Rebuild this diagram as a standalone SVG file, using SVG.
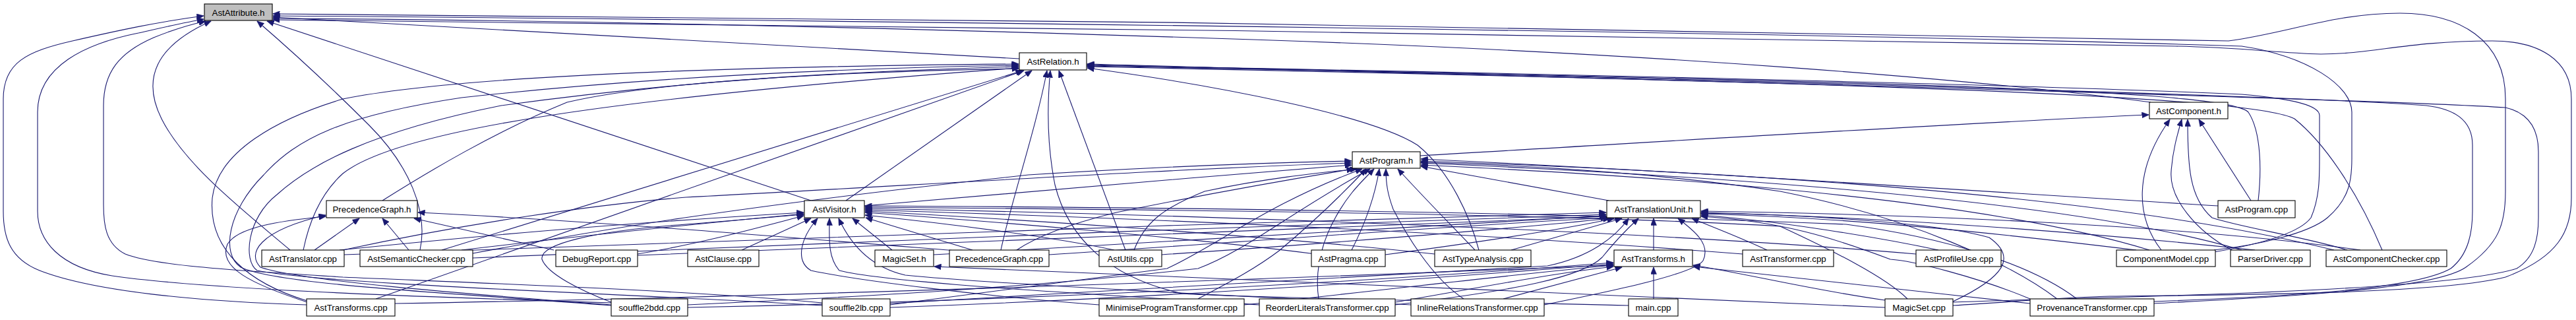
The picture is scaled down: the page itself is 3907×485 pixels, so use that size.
<svg xmlns="http://www.w3.org/2000/svg" width="3907" height="485" viewBox="0 0 3907 485">
<style>
.n rect{fill:#fff;stroke:#000;stroke-width:1.1}
.n.root rect{fill:#bfbfbf}
.n text{font-family:"Liberation Sans",Arial,Helvetica,sans-serif;font-size:13.3px;text-anchor:middle;fill:#000}
.e path{fill:none;stroke:#191970;stroke-width:1.1;marker-end:url(#ah)}
</style>
<defs>
<marker id="ah" markerUnits="userSpaceOnUse" markerWidth="11" markerHeight="9" viewBox="0 0 11 9" refX="10.5" refY="4.5" orient="auto">
<path d="M0,0L11,4.5L0,9z" fill="#191970" stroke="#191970" stroke-width="0.5"/>
</marker>
</defs>
<rect x="0" y="0" width="3907" height="485" fill="#fff"/>
<g id="edges" class="e">
<path d="M465,462 C330,458 150,445 60,410 C15,392 5,360 5,320 L5,150 C5,95 40,78 110,62 C180,46 240,33 309,24"/>
<path d="M927,459 C700,452 320,440 170,418 C90,405 57,365 57,320 L57,170 C57,100 130,66 210,50 C250,41 280,34 309,29"/>
<path d="M1247,459 C1050,440 700,428 520,420 C400,412 240,405 190,385 C160,370 157,340 157,310 L157,160 C157,110 180,80 233,57 C260,46 285,38 312,32"/>
<path d="M440,379 C370,320 280,250 245,180 C215,120 235,70 320,32"/>
<path d="M637,379 C650,320 620,250 560,190 C500,130 440,75 390,32"/>
<path d="M1230,304 L405,32"/>
<path d="M1546,89 L414,26"/>
<path d="M3262,155 C3000,120 2500,80 1900,60 C1300,40 800,30 414,28"/>
<path d="M3267,460 C3450,450 3690,440 3740,405 C3790,370 3800,340 3800,290 L3800,150 C3800,60 3730,20 3640,20 C3540,20 3470,50 3380,62 C2800,45 1200,25 414,21"/>
<path d="M2962,463 C3050,458 3100,452 3200,449 C3400,447 3700,445 3800,420 C3880,390 3900,350 3900,300 L3900,150 C3900,90 3850,62 3780,62 C3650,62 3600,82 3520,82 C3450,80 3400,72 3300,70 C2500,55 1200,35 414,30"/>
<path d="M3358,379 C3420,372 3500,355 3530,330 C3565,300 3567,270 3567,240 L3567,170 C3567,130 3500,85 3400,70 C2800,50 1400,32 414,24"/>
<path d="M466,456 C380,430 315,380 322,300 C330,230 420,180 520,150 C720,110 1200,100 1545,97"/>
<path d="M927,463 C700,445 420,432 365,405 C335,385 345,320 400,265 C450,210 520,175 700,148 C1000,115 1300,103 1545,99"/>
<path d="M1247,463 C1000,447 500,432 390,410 C368,395 375,330 420,295 C470,250 560,200 760,160 C1050,120 1300,108 1545,101"/>
<path d="M460,379 C470,330 490,290 520,263 C600,200 900,150 1545,103"/>
<path d="M580,304 C650,260 750,200 860,155 C1000,122 1300,108 1545,104"/>
<path d="M670,379 L1551,107"/>
<path d="M570,453 L1553,107"/>
<path d="M1283,304 L1565,107"/>
<path d="M1518,379 C1535,300 1570,200 1588,107"/>
<path d="M2470,463 C2200,456 1850,450 1793,445 C1680,420 1620,360 1600,280 C1588,220 1588,160 1593,107"/>
<path d="M1707,379 L1606,107"/>
<path d="M2243,379 C2230,330 2200,260 2150,220 C2080,175 1850,130 1649,103"/>
<path d="M3425,304 C3430,260 3430,200 3410,170 C3380,140 3000,125 1649,100"/>
<path d="M3613,379 C3580,300 3530,220 3480,180 C3420,150 3000,128 1649,101"/>
<path d="M3358,382 C3440,368 3490,350 3505,330 C3518,300 3518,270 3518,240 L3518,175 C3518,160 3480,150 3400,143 C3000,125 2000,105 1649,99"/>
<path d="M3267,457 C3450,450 3660,440 3717,407 C3745,385 3750,350 3750,320 L3750,220 C3750,180 3720,165 3680,160 C3500,145 2400,115 1649,98"/>
<path d="M2962,458 C3100,452 3700,445 3817,407 C3845,390 3850,360 3850,330 L3850,230 C3850,190 3830,170 3800,163 C3600,150 2400,118 1649,97"/>
<path d="M2154,236 C2600,210 3000,185 3259,174"/>
<path d="M3278,379 C3240,330 3235,260 3291,181"/>
<path d="M3385,379 C3330,350 3290,300 3293,260 C3295,230 3302,205 3309,181"/>
<path d="M3560,379 C3500,360 3400,345 3355,330 C3320,300 3318,250 3318,181"/>
<path d="M3414,304 L3335,181"/>
<path d="M1311,312 C1500,295 1800,270 2050,250"/>
<path d="M520,379 C700,340 900,310 1040,299 C1400,280 1800,255 2050,247"/>
<path d="M717,384 C900,350 1100,315 1560,265 C1800,250 1950,246 2050,244"/>
<path d="M1542,379 C1570,360 1620,340 1693,322 C1850,290 1980,268 2053,256"/>
<path d="M1720,379 C1735,340 1760,317 1827,290 C1920,270 2000,262 2058,256"/>
<path d="M1817,453 C1860,430 1900,410 1940,380 C2000,330 2040,290 2072,256"/>
<path d="M1350,462 C1450,450 1600,430 1770,407 C1850,370 1920,310 2066,256"/>
<path d="M1043,462 C1300,450 1550,437 1817,407 C1890,380 1960,320 2078,256"/>
<path d="M2050,379 C2070,340 2085,300 2092,256"/>
<path d="M2220,453 C2170,420 2130,350 2113,317 C2105,295 2102,280 2102,256"/>
<path d="M2237,379 C2200,340 2160,300 2120,256"/>
<path d="M2440,304 L2155,252"/>
<path d="M3260,379 C3100,330 2800,280 2155,250"/>
<path d="M3400,379 C3200,320 2800,275 2155,247"/>
<path d="M3540,379 C3300,320 2900,270 2155,244"/>
<path d="M3364,312 C3000,290 2600,262 2155,241"/>
<path d="M3120,453 C3050,400 2900,330 2700,290 C2500,260 2300,250 2155,246"/>
<path d="M2000,453 C1995,420 2000,380 2020,340 C2040,300 2060,280 2084,256"/>
<path d="M522,386 C1000,366 1800,340 2436,322"/>
<path d="M717,391 C1200,370 1900,342 2436,325"/>
<path d="M967,387 C1400,370 2000,345 2436,328"/>
<path d="M1416,386 C1800,366 2200,340 2436,327"/>
<path d="M1591,386 C1900,366 2200,342 2438,330"/>
<path d="M1762,386 C2000,370 2300,346 2442,331"/>
<path d="M2101,386 C2250,366 2380,346 2448,331"/>
<path d="M2292,379 L2460,331"/>
<path d="M2508,379 L2508,331"/>
<path d="M2342,462 C2450,440 2570,415 2583,395 C2595,370 2570,350 2545,331"/>
<path d="M2680,379 C2640,360 2600,345 2566,331"/>
<path d="M2940,379 C2850,360 2700,335 2580,326"/>
<path d="M3240,379 C3000,350 2800,330 2580,324"/>
<path d="M3420,379 C3100,345 2800,328 2580,322"/>
<path d="M3580,379 C3300,340 2900,325 2580,320"/>
<path d="M2962,457 C3040,420 3060,390 3017,360 C2950,340 2750,325 2580,323"/>
<path d="M3079,453 C3000,420 2900,395 2867,393 C2780,360 2700,335 2580,328"/>
<path d="M1350,460 C1700,440 2100,415 2347,403 C2410,390 2450,360 2470,331"/>
<path d="M2116,462 C2300,440 2400,420 2430,390 C2450,365 2470,345 2485,331"/>
<path d="M515,379 C800,350 1000,335 1219,322"/>
<path d="M700,379 C900,355 1050,340 1219,324"/>
<path d="M967,385 C1060,370 1150,345 1219,327"/>
<path d="M927,458 C880,440 830,415 822,393 C818,370 900,350 1040,340 C1120,334 1180,328 1219,325"/>
<path d="M1125,379 L1230,331"/>
<path d="M1353,379 L1293,331"/>
<path d="M1475,379 L1313,330"/>
<path d="M1667,462 C1500,450 1300,425 1230,410 C1205,395 1215,360 1240,331"/>
<path d="M1910,462 C1700,448 1350,430 1273,410 C1255,390 1258,360 1258,331"/>
<path d="M2140,462 C1900,450 1500,430 1373,417 C1320,405 1290,370 1272,331"/>
<path d="M1690,379 C1600,360 1450,340 1312,326"/>
<path d="M1995,385 C1800,360 1500,335 1312,322"/>
<path d="M2176,385 C1900,355 1500,330 1312,320"/>
<path d="M2643,385 C2200,350 1700,330 1312,318"/>
<path d="M2906,385 C2500,350 1800,325 1312,316"/>
<path d="M2893,453 C2860,420 2780,380 2700,343 C2400,325 1800,318 1312,314"/>
<path d="M3150,453 C3080,400 2950,360 2800,340 C2300,320 1700,314 1312,312"/>
<path d="M466,458 C380,430 330,405 345,370 C360,345 420,335 494,328"/>
<path d="M927,462 C700,445 450,425 395,405 C375,385 390,350 494,326"/>
<path d="M477,379 L545,331"/>
<path d="M620,379 L580,331"/>
<path d="M840,379 L628,331"/>
<path d="M1475,382 C1200,360 900,335 634,322"/>
<path d="M599,460 C900,455 1500,440 2447,402"/>
<path d="M1887,462 C2100,440 2300,415 2447,402"/>
<path d="M2116,458 C2250,435 2350,415 2447,404"/>
<path d="M1350,466 C1800,450 2200,420 2447,400"/>
<path d="M1043,466 C1600,455 2100,425 2447,398"/>
<path d="M2280,453 L2460,405"/>
<path d="M2508,453 L2508,405"/>
<path d="M2859,455 C2750,440 2650,415 2568,402"/>
<path d="M3079,460 C2900,440 2700,420 2568,404"/>
<path d="M2859,466 C2400,445 1800,420 1417,404"/>
</g>
<g id="node_AstAttribute_h" class="n root"><rect x="310" y="6" width="103" height="25"/><text x="361.5" y="23.5">AstAttribute.h</text></g>
<g id="node_AstRelation_h" class="n"><rect x="1546" y="80" width="102" height="26"/><text x="1597" y="97.5">AstRelation.h</text></g>
<g id="node_AstComponent_h" class="n"><rect x="3260" y="155" width="119" height="25"/><text x="3319.5" y="172.5">AstComponent.h</text></g>
<g id="node_AstProgram_h" class="n"><rect x="2051" y="230" width="103" height="25"/><text x="2102.5" y="247.5">AstProgram.h</text></g>
<g id="node_PrecedenceGraph_h" class="n"><rect x="495" y="304" width="138" height="26"/><text x="564" y="321.5">PrecedenceGraph.h</text></g>
<g id="node_AstVisitor_h" class="n"><rect x="1220" y="304" width="91" height="26"/><text x="1265.5" y="321.5">AstVisitor.h</text></g>
<g id="node_AstTranslationUnit_h" class="n"><rect x="2437" y="304" width="142" height="26"/><text x="2508" y="321.5">AstTranslationUnit.h</text></g>
<g id="node_AstProgram_cpp" class="n"><rect x="3364" y="304" width="117" height="26"/><text x="3422.5" y="321.5">AstProgram.cpp</text></g>
<g id="node_AstTranslator_cpp" class="n"><rect x="397" y="379" width="125" height="25"/><text x="459.5" y="396.5">AstTranslator.cpp</text></g>
<g id="node_AstSemanticChecker_cpp" class="n"><rect x="546" y="379" width="171" height="25"/><text x="631.5" y="396.5">AstSemanticChecker.cpp</text></g>
<g id="node_DebugReport_cpp" class="n"><rect x="843" y="379" width="124" height="25"/><text x="905" y="396.5">DebugReport.cpp</text></g>
<g id="node_AstClause_cpp" class="n"><rect x="1043" y="379" width="108" height="25"/><text x="1097" y="396.5">AstClause.cpp</text></g>
<g id="node_MagicSet_h" class="n"><rect x="1327" y="379" width="89" height="25"/><text x="1371.5" y="396.5">MagicSet.h</text></g>
<g id="node_PrecedenceGraph_cpp" class="n"><rect x="1440" y="379" width="151" height="25"/><text x="1515.5" y="396.5">PrecedenceGraph.cpp</text></g>
<g id="node_AstUtils_cpp" class="n"><rect x="1667" y="379" width="95" height="25"/><text x="1714.5" y="396.5">AstUtils.cpp</text></g>
<g id="node_AstPragma_cpp" class="n"><rect x="1989" y="379" width="112" height="25"/><text x="2045" y="396.5">AstPragma.cpp</text></g>
<g id="node_AstTypeAnalysis_cpp" class="n"><rect x="2176" y="379" width="146" height="25"/><text x="2249" y="396.5">AstTypeAnalysis.cpp</text></g>
<g id="node_AstTransforms_h" class="n"><rect x="2448" y="379" width="119" height="25"/><text x="2507.5" y="396.5">AstTransforms.h</text></g>
<g id="node_AstTransformer_cpp" class="n"><rect x="2643" y="379" width="138" height="25"/><text x="2712" y="396.5">AstTransformer.cpp</text></g>
<g id="node_AstProfileUse_cpp" class="n"><rect x="2906" y="379" width="129" height="25"/><text x="2970.5" y="396.5">AstProfileUse.cpp</text></g>
<g id="node_ComponentModel_cpp" class="n"><rect x="3210" y="379" width="150" height="25"/><text x="3285" y="396.5">ComponentModel.cpp</text></g>
<g id="node_ParserDriver_cpp" class="n"><rect x="3383" y="379" width="121" height="25"/><text x="3443.5" y="396.5">ParserDriver.cpp</text></g>
<g id="node_AstComponentChecker_cpp" class="n"><rect x="3528" y="379" width="183" height="25"/><text x="3619.5" y="396.5">AstComponentChecker.cpp</text></g>
<g id="node_AstTransforms_cpp" class="n"><rect x="465" y="453" width="134" height="26"/><text x="532" y="470.5">AstTransforms.cpp</text></g>
<g id="node_souffle2bdd_cpp" class="n"><rect x="927" y="453" width="116" height="26"/><text x="985" y="470.5">souffle2bdd.cpp</text></g>
<g id="node_souffle2lb_cpp" class="n"><rect x="1247" y="453" width="103" height="26"/><text x="1298.5" y="470.5">souffle2lb.cpp</text></g>
<g id="node_MinimiseProgramTransformer_cpp" class="n"><rect x="1667" y="453" width="220" height="26"/><text x="1777" y="470.5">MinimiseProgramTransformer.cpp</text></g>
<g id="node_ReorderLiteralsTransformer_cpp" class="n"><rect x="1910" y="453" width="206" height="26"/><text x="2013" y="470.5">ReorderLiteralsTransformer.cpp</text></g>
<g id="node_InlineRelationsTransformer_cpp" class="n"><rect x="2140" y="453" width="202" height="26"/><text x="2241" y="470.5">InlineRelationsTransformer.cpp</text></g>
<g id="node_main_cpp" class="n"><rect x="2470" y="453" width="75" height="26"/><text x="2507.5" y="470.5">main.cpp</text></g>
<g id="node_MagicSet_cpp" class="n"><rect x="2859" y="453" width="103" height="26"/><text x="2910.5" y="470.5">MagicSet.cpp</text></g>
<g id="node_ProvenanceTransformer_cpp" class="n"><rect x="3079" y="453" width="188" height="26"/><text x="3173" y="470.5">ProvenanceTransformer.cpp</text></g>
</svg>
